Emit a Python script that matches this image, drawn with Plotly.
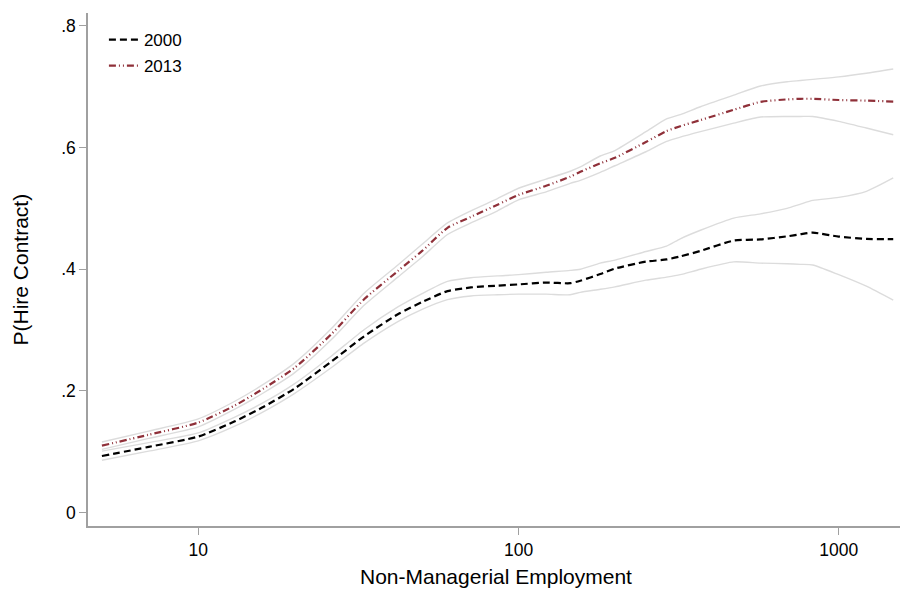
import math
import plotly.graph_objects as go

# ---- data ----
EMP = [5, 7, 10, 13, 16, 20, 26, 33, 42, 50, 60, 71, 86, 100, 122, 145, 156, 180,
       200, 250, 290, 320, 370, 470, 570, 690, 760, 830, 1000, 1220, 1480]

P2000 = [0.093, 0.108, 0.125, 0.150, 0.174, 0.204, 0.248, 0.290, 0.326, 0.346, 0.364,
         0.370, 0.373, 0.375, 0.378, 0.377, 0.381, 0.392, 0.401, 0.4125, 0.416, 0.421,
         0.430, 0.447, 0.449, 0.454, 0.4575, 0.460, 0.4536, 0.4498, 0.4493]
P2000_HI = [0.101, 0.115, 0.131, 0.157, 0.181, 0.212, 0.257, 0.301, 0.338, 0.360, 0.380,
            0.386, 0.389, 0.391, 0.395, 0.398, 0.400, 0.410, 0.415, 0.429, 0.438, 0.450,
            0.464, 0.484, 0.491, 0.500, 0.507, 0.513, 0.518, 0.528, 0.550]
P2000_LO = [0.086, 0.101, 0.118, 0.142, 0.166, 0.196, 0.238, 0.279, 0.314, 0.334, 0.350,
            0.356, 0.358, 0.359, 0.359, 0.358, 0.362, 0.367, 0.371, 0.382, 0.387, 0.391,
            0.400, 0.412, 0.410, 0.409, 0.408, 0.407, 0.391, 0.372, 0.349]

P2013 = [0.110, 0.128, 0.148, 0.176, 0.204, 0.238, 0.293, 0.351, 0.397, 0.430, 0.468,
         0.486, 0.506, 0.522, 0.537, 0.552, 0.560, 0.574, 0.583, 0.609, 0.627, 0.635,
         0.645, 0.662, 0.675, 0.679, 0.680, 0.680, 0.678, 0.677, 0.6755]
P2013_HI = [0.116, 0.134, 0.154, 0.183, 0.211, 0.246, 0.302, 0.361, 0.407, 0.441, 0.476,
            0.496, 0.516, 0.533, 0.548, 0.561, 0.568, 0.586, 0.595, 0.626, 0.647, 0.654,
            0.667, 0.686, 0.701, 0.708, 0.710, 0.712, 0.716, 0.722, 0.729]
P2013_LO = [0.104, 0.122, 0.141, 0.170, 0.197, 0.230, 0.284, 0.341, 0.387, 0.420, 0.457,
            0.476, 0.496, 0.514, 0.527, 0.541, 0.546, 0.559, 0.570, 0.593, 0.610, 0.617,
            0.626, 0.640, 0.650, 0.651, 0.651, 0.651, 0.643, 0.632, 0.621]

X_TICKS = [10, 100, 1000]
X_TICK_TEXT = ["10", "100", "1000"]
Y_TICKS = [0, 0.2, 0.4, 0.6, 0.8]
Y_TICK_TEXT = ["0", ".2", ".4", ".6", ".8"]

X_TITLE = "Non-Managerial Employment"
Y_TITLE = "P(Hire Contract)"

FONT = "Liberation Sans, Arial, Helvetica, sans-serif"
CI_COLOR = "#dcdcdc"
RED = "#8f3039"
AXIS_COLOR = "#a0a0a0"
GRID_COLOR = "#c4c4c4"

fig = go.Figure()

for lo, hi in [(P2000_LO, P2000_HI), (P2013_LO, P2013_HI)]:
    for band in (lo, hi):
        fig.add_trace(go.Scatter(x=EMP, y=band, mode="lines", showlegend=False,
                                 hoverinfo="skip",
                                 line=dict(color=CI_COLOR, width=1.4, shape="spline", smoothing=0.6)))

fig.add_trace(go.Scatter(x=EMP, y=P2000, mode="lines", name="2000", legendgroup="a",
                         line=dict(color="black", width=2.2, dash="7px,4px",
                                   shape="spline", smoothing=0.6)))
fig.add_trace(go.Scatter(x=EMP, y=P2013, mode="lines", name="2013", legendgroup="b",
                         line=dict(color=RED, width=2.2, dash="7px,3px,1px,3px,1px,3px",
                                   shape="spline", smoothing=0.6)))

# dotted grid restricted to the data region, like the original
shapes = []
for yv in Y_TICKS:
    shapes.append(dict(type="line", xref="x", yref="y", layer="below",
                       x0=math.log10(EMP[0]), x1=math.log10(EMP[-1]) - 0.015, y0=yv, y1=yv,
                       line=dict(color=GRID_COLOR, width=1, dash="1px,2px")))
for xv in X_TICKS:
    shapes.append(dict(type="line", xref="x", yref="y", layer="below",
                       x0=math.log10(xv), x1=math.log10(xv), y0=Y_TICKS[0], y1=Y_TICKS[-1],
                       line=dict(color=GRID_COLOR, width=1, dash="1px,2px")))

annotations = [
    dict(text=X_TITLE, xref="paper", yref="paper", x=0.503, y=-0.0994,
         xanchor="center", yanchor="middle", showarrow=False,
         font=dict(size=21, family=FONT, color="black")),
    dict(text=Y_TITLE, xref="paper", yref="paper", x=-0.0837, y=0.5,
         xanchor="center", yanchor="middle", showarrow=False, textangle=-90,
         font=dict(size=21, family=FONT, color="black")),
]

fig.update_layout(
    width=900, height=589,
    paper_bgcolor="white", plot_bgcolor="white",
    margin=dict(l=88, r=0, t=13, b=63, autoexpand=False),
    font=dict(family=FONT, color="black"),
    shapes=shapes,
    annotations=annotations,
    showlegend=True,
    legend=dict(x=0.0196, y=0.9825, xanchor="left", yanchor="top",
                bgcolor="white", borderwidth=0,
                font=dict(size=17, family=FONT, color="black"),
                tracegroupgap=1, traceorder="grouped",
                itemwidth=30),
    xaxis=dict(type="log", range=[0.6555, 3.1914], automargin=False,
               tickvals=X_TICKS, ticktext=X_TICK_TEXT,
               showgrid=False, zeroline=False,
               showline=True, linecolor=AXIS_COLOR, linewidth=1.5,
               ticks="outside", ticklen=7, tickcolor=AXIS_COLOR, tickwidth=1.2,
               tickfont=dict(size=17.5, family=FONT, color="black")),
    yaxis=dict(range=[-0.022, 0.821], automargin=False,
               tickvals=Y_TICKS, ticktext=Y_TICK_TEXT,
               showgrid=False, zeroline=False,
               showline=True, linecolor=AXIS_COLOR, linewidth=1.5,
               ticks="outside", ticklen=7, tickcolor=AXIS_COLOR, tickwidth=1.2,
               tickfont=dict(size=17.5, family=FONT, color="black")),
)

fig.write_html(
    "out.html",
    config={"displayModeBar": False},
    post_script="document.body.style.margin='0';document.body.style.padding='0';"
                "document.documentElement.style.overflow='hidden';",
)
